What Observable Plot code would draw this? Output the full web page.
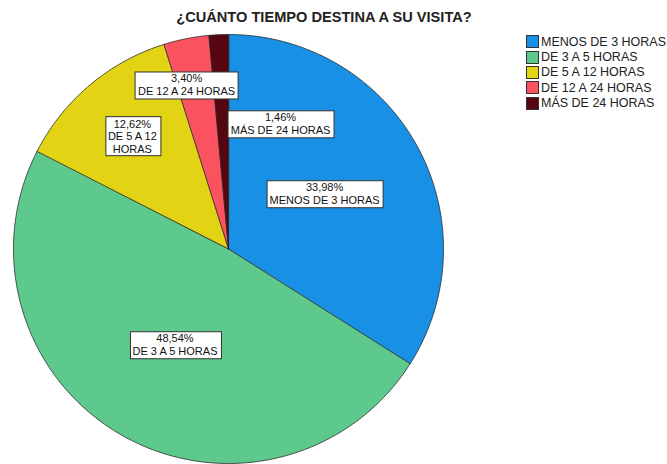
<!DOCTYPE html>
<html><head><meta charset="utf-8">
<script src="https://cdn.jsdelivr.net/npm/d3@7"></script>
<script src="https://cdn.jsdelivr.net/npm/@observablehq/plot@0.6"></script>
<style>
body{margin:0;background:#fff;font-family:"Liberation Sans",Arial,sans-serif}
#wrap{position:relative;width:667px;height:464px;overflow:hidden}
#title{position:absolute;left:0;width:648px;top:9px;text-align:center;font-weight:bold;font-size:14.6px;color:#222}
#legend{position:absolute;left:526px;top:34px;font-size:12.5px;color:#222}
.row{display:flex;align-items:center;height:15.4px;white-space:nowrap}
.sw{width:13px;height:13px;border:1px solid #333;margin-right:2px;box-sizing:border-box;flex:none}
</style>
</head><body><div id="wrap"><div id="title"></div><div id="legend"></div></div>
<script>
const title = "¿CUÁNTO TIEMPO DESTINA A SU VISITA?";
const categories = ["MENOS DE 3 HORAS", "DE 3 A 5 HORAS", "DE 5 A 12 HORAS", "DE 12 A 24 HORAS", "MÁS DE 24 HORAS"];
const percents = [33.98, 48.54, 12.62, 3.40, 1.46];
const colors = ["#1790e6", "#5dc98c", "#e2d314", "#fb5260", "#560610"];
const labelTexts = ["33,98%\nMENOS DE 3 HORAS", "48,54%\nDE 3 A 5 HORAS", "12,62%\nDE 5 A 12\nHORAS", "3,40%\nDE 12 A 24 HORAS", "1,46%\nMÁS DE 24 HORAS"];
// label anchor positions (layout, in unit-circle coordinates)
const labelX = [0.447, -0.249, -0.447, -0.195, 0.242];
const labelY = [0.26, -0.444, 0.526, 0.767, 0.586];

const wrap = document.getElementById("wrap");
document.getElementById("title").textContent = title;
const leg = document.getElementById("legend");
categories.forEach((c, i) => {
  const r = document.createElement("div"); r.className = "row";
  const s = document.createElement("div"); s.className = "sw"; s.style.background = colors[i];
  const t = document.createElement("span"); t.textContent = c;
  r.appendChild(s); r.appendChild(t); leg.appendChild(r);
});

const arcs = d3.pie().sort(null).value(d => d)(percents);
const slices = arcs.map((a, i) => {
  const pts = [{x: 0, y: 0}];
  const n = Math.max(2, Math.ceil((a.endAngle - a.startAngle) / (Math.PI / 360)));
  for (let k = 0; k <= n; k++) {
    const ang = a.startAngle + (a.endAngle - a.startAngle) * k / n;
    pts.push({x: Math.sin(ang), y: Math.cos(ang)});
  }
  return {pts, color: colors[i]};
});
const labels = labelTexts.map((t, i) => ({t, x: labelX[i], y: labelY[i]}));

const plot = Plot.plot({
  width: 667, height: 464,
  style: {fontFamily: '"Liberation Sans", Arial, sans-serif', background: "transparent"},
  x: {domain: [-1, 1], range: [13, 443], axis: null},
  y: {domain: [-1, 1], range: [463, 34], axis: null},
  marks: [
    ...slices.map(s => Plot.line(s.pts, {x: "x", y: "y", fill: s.color, stroke: "#2a2a2a", strokeWidth: 0.8, curve: "linear-closed"})),
    Plot.text(labels, {x: "x", y: "y", text: "t", fontSize: 11, lineHeight: 1.15, fill: "#111", className: "lbl"})
  ]
});
plot.style.position = "absolute"; plot.style.left = "0"; plot.style.top = "0";
wrap.insertBefore(plot, wrap.firstChild);

// white boxes behind labels
plot.querySelectorAll("g.lbl text, .lbl text").forEach(t => {
  const b = t.getBBox();
  const r = document.createElementNS("http://www.w3.org/2000/svg", "rect");
  r.setAttribute("x", Math.round(b.x - 3) + 0.5);
  r.setAttribute("y", Math.round(b.y - 1) + 0.5);
  r.setAttribute("width", Math.round(b.width + 6));
  r.setAttribute("height", Math.round(b.height + 2));
  r.setAttribute("fill", "#fff");
  r.setAttribute("stroke", "#333");
  r.setAttribute("stroke-width", "1");
  const tr = t.getAttribute("transform");
  if (tr) r.setAttribute("transform", tr);
  t.parentNode.insertBefore(r, t);
});
</script>
</body></html>
